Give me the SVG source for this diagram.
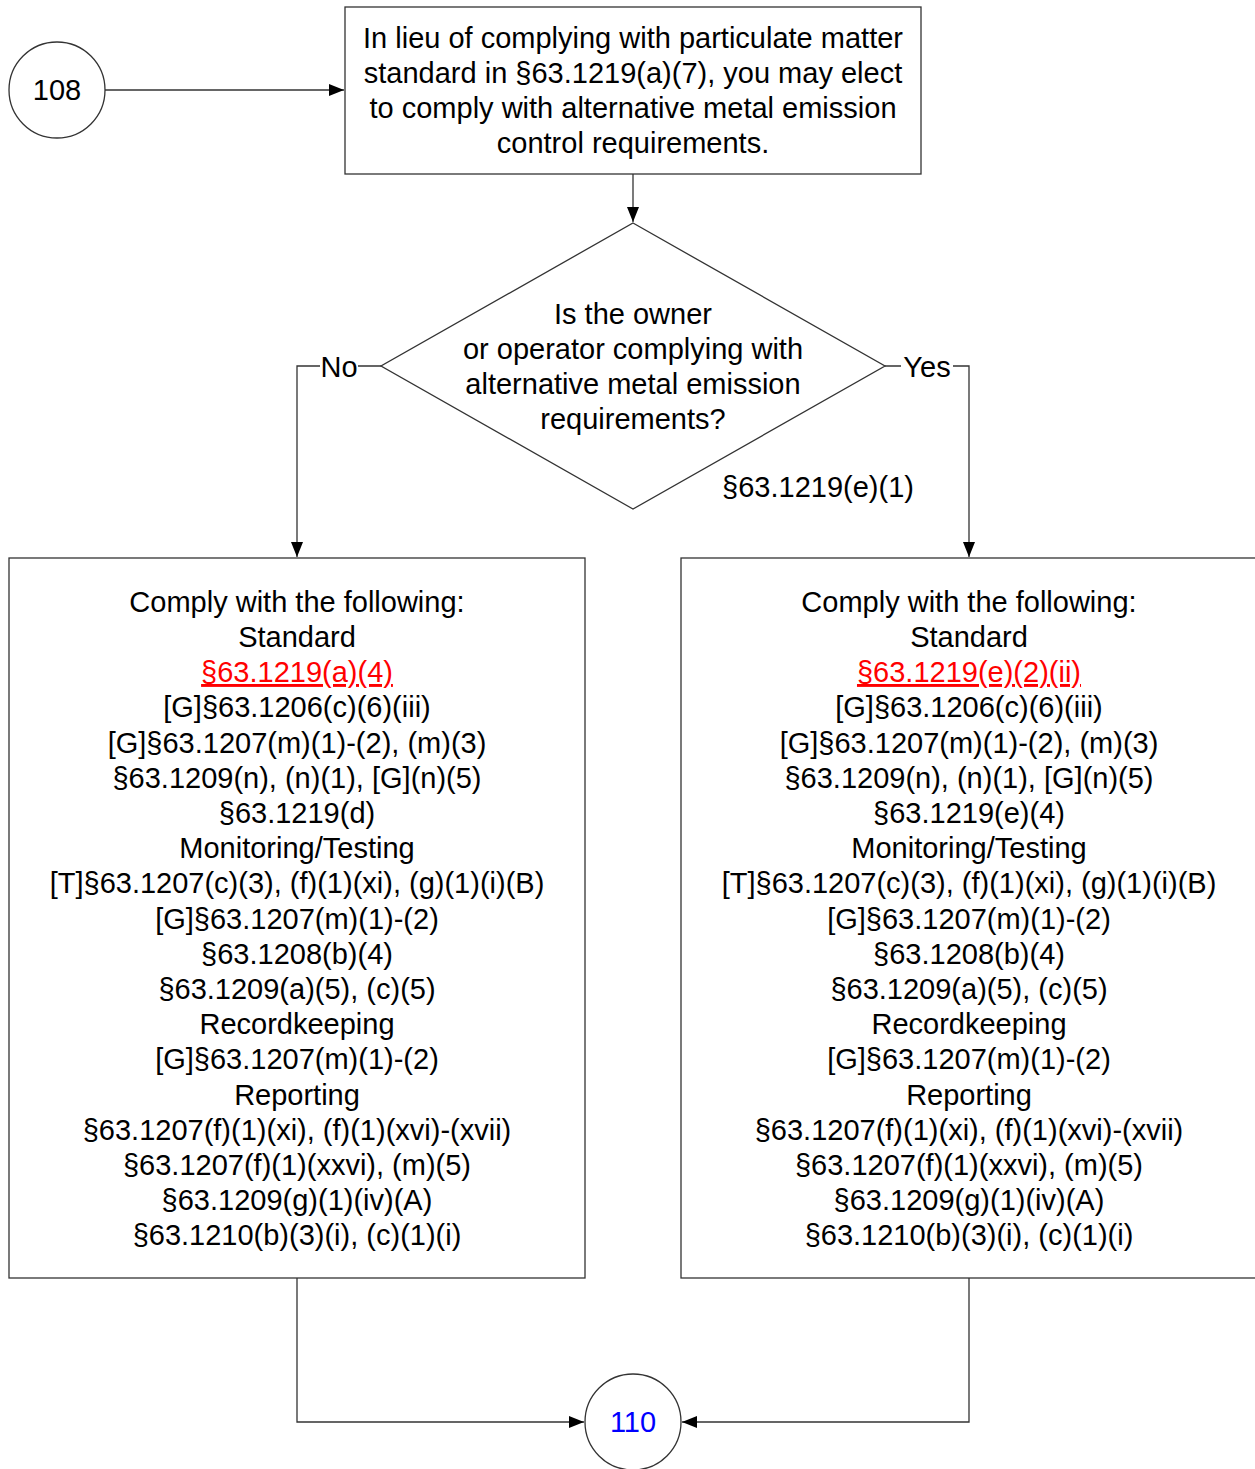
<svg xmlns="http://www.w3.org/2000/svg" width="1255" height="1469" viewBox="0 0 1255 1469">
<defs>
<marker id="arr" markerWidth="16" markerHeight="12" refX="15" refY="6" orient="auto" markerUnits="userSpaceOnUse">
<path d="M0,0 L15,6 L0,12 Z" fill="#000"/>
</marker>
<style>
.s{fill:#fff;stroke:#333;stroke-width:1.3}
.c{fill:none;stroke:#333;stroke-width:1.3}
.t{font-family:"Liberation Sans",Arial,sans-serif;font-size:29px;fill:#000;text-anchor:middle}
.red{fill:#ff0000;text-decoration:underline}
.blue{fill:#0000ff}
</style>
</defs>
<rect width="1255" height="1469" fill="#fff"/>
<g id="connectors">
<path class="c" d="M105,90 H344" marker-end="url(#arr)"/>
<path class="c" d="M633,174 V222" marker-end="url(#arr)"/>
<path class="c" d="M381,366 H358 M320,366 H297 V557" marker-end="url(#arr)"/>
<path class="c" d="M885,366 H901 M953,366 H969 V557" marker-end="url(#arr)"/>
<path class="c" d="M297,1278 V1422 H584" marker-end="url(#arr)"/>
<path class="c" d="M969,1278 V1422 H682" marker-end="url(#arr)"/>
<text class="t" x="339" y="377">No</text>
<text class="t" x="927" y="377">Yes</text>
</g>
<g id="n108">
<circle class="s" cx="57" cy="90" r="48"/>
<text class="t" x="57" y="100">108</text>
</g>
<g id="start">
<rect class="s" x="345" y="7" width="576" height="167"/>
<text class="t" x="633" y="48">In lieu of complying with particulate matter</text>
<text class="t" x="633" y="83">standard in §63.1219(a)(7), you may elect</text>
<text class="t" x="633" y="118">to comply with alternative metal emission</text>
<text class="t" x="633" y="153">control requirements.</text>
</g>
<g id="decision">
<polygon class="s" points="633,223 885,366 633,509 381,366"/>
<text class="t" x="633" y="324">Is the owner</text>
<text class="t" x="633" y="359">or operator complying with</text>
<text class="t" x="633" y="394">alternative metal emission</text>
<text class="t" x="633" y="429">requirements?</text>
<text class="t" x="818" y="497">§63.1219(e)(1)</text>
</g>
<g id="noBox">
<rect class="s" x="9" y="558" width="576" height="720"/>
<text class="t" x="297" y="612">Comply with the following:</text>
<text class="t" x="297" y="647">Standard</text>
<text class="t red" x="297" y="682">§63.1219(a)(4)</text>
<text class="t" x="297" y="717">[G]§63.1206(c)(6)(iii)</text>
<text class="t" x="297" y="753">[G]§63.1207(m)(1)-(2), (m)(3)</text>
<text class="t" x="297" y="788">§63.1209(n), (n)(1), [G](n)(5)</text>
<text class="t" x="297" y="823">§63.1219(d)</text>
<text class="t" x="297" y="858">Monitoring/Testing</text>
<text class="t" x="297" y="893">[T]§63.1207(c)(3), (f)(1)(xi), (g)(1)(i)(B)</text>
<text class="t" x="297" y="929">[G]§63.1207(m)(1)-(2)</text>
<text class="t" x="297" y="964">§63.1208(b)(4)</text>
<text class="t" x="297" y="999">§63.1209(a)(5), (c)(5)</text>
<text class="t" x="297" y="1034">Recordkeeping</text>
<text class="t" x="297" y="1069">[G]§63.1207(m)(1)-(2)</text>
<text class="t" x="297" y="1105">Reporting</text>
<text class="t" x="297" y="1140">§63.1207(f)(1)(xi), (f)(1)(xvi)-(xvii)</text>
<text class="t" x="297" y="1175">§63.1207(f)(1)(xxvi), (m)(5)</text>
<text class="t" x="297" y="1210">§63.1209(g)(1)(iv)(A)</text>
<text class="t" x="297" y="1245">§63.1210(b)(3)(i), (c)(1)(i)</text>
</g>
<g id="yesBox">
<rect class="s" x="681" y="558" width="576" height="720"/>
<text class="t" x="969" y="612">Comply with the following:</text>
<text class="t" x="969" y="647">Standard</text>
<text class="t red" x="969" y="682">§63.1219(e)(2)(ii)</text>
<text class="t" x="969" y="717">[G]§63.1206(c)(6)(iii)</text>
<text class="t" x="969" y="753">[G]§63.1207(m)(1)-(2), (m)(3)</text>
<text class="t" x="969" y="788">§63.1209(n), (n)(1), [G](n)(5)</text>
<text class="t" x="969" y="823">§63.1219(e)(4)</text>
<text class="t" x="969" y="858">Monitoring/Testing</text>
<text class="t" x="969" y="893">[T]§63.1207(c)(3), (f)(1)(xi), (g)(1)(i)(B)</text>
<text class="t" x="969" y="929">[G]§63.1207(m)(1)-(2)</text>
<text class="t" x="969" y="964">§63.1208(b)(4)</text>
<text class="t" x="969" y="999">§63.1209(a)(5), (c)(5)</text>
<text class="t" x="969" y="1034">Recordkeeping</text>
<text class="t" x="969" y="1069">[G]§63.1207(m)(1)-(2)</text>
<text class="t" x="969" y="1105">Reporting</text>
<text class="t" x="969" y="1140">§63.1207(f)(1)(xi), (f)(1)(xvi)-(xvii)</text>
<text class="t" x="969" y="1175">§63.1207(f)(1)(xxvi), (m)(5)</text>
<text class="t" x="969" y="1210">§63.1209(g)(1)(iv)(A)</text>
<text class="t" x="969" y="1245">§63.1210(b)(3)(i), (c)(1)(i)</text>
</g>
<g id="n110">
<circle class="s" cx="633" cy="1422" r="48"/>
<text class="t blue" x="633" y="1432">110</text>
</g>
</svg>
